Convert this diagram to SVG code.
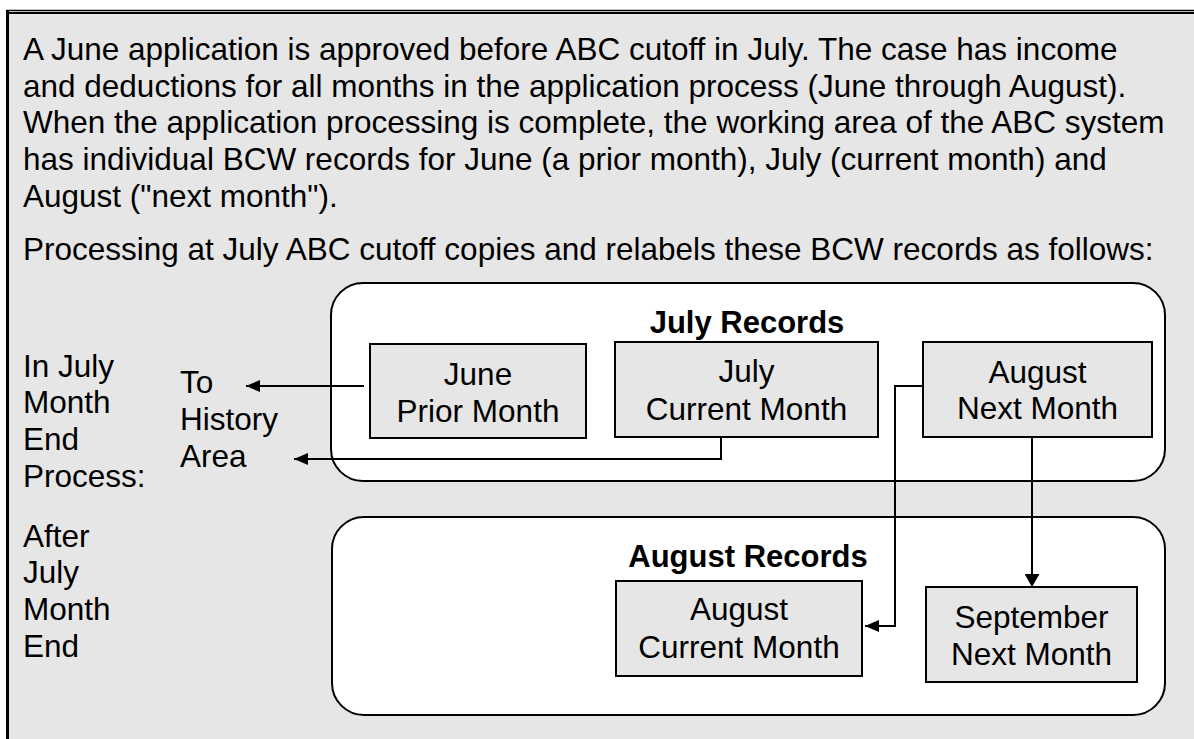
<svg xmlns="http://www.w3.org/2000/svg" width="1194" height="739" viewBox="0 0 1194 739">
<style>
text{font-family:"Liberation Sans",Arial,sans-serif;font-size:31.5px;fill:#000}
.b{font-weight:bold;font-size:31px}
.c{text-anchor:middle}
.box{fill:#e6e6e6;stroke:#000;stroke-width:2}
.grp{fill:#fff;stroke:#000;stroke-width:2}
.ln{fill:none;stroke:#000;stroke-width:2}
</style>
<defs>
<marker id="ah" viewBox="0 0 14 12" refX="14" refY="6" markerWidth="14" markerHeight="12" markerUnits="userSpaceOnUse" orient="auto">
<path d="M0,0 L14,6 L0,12 Z" fill="#000"/>
</marker>
<marker id="ahd" viewBox="0 0 13 15" refX="13" refY="7.5" markerWidth="13" markerHeight="15" markerUnits="userSpaceOnUse" orient="auto">
<path d="M0,0 L13,7.5 L0,15 Z" fill="#000"/>
</marker>
</defs>
<rect width="1194" height="739" fill="#fff"/>
<rect x="9" y="13" width="1185" height="726" fill="#e6e6e6"/>
<g id="frame">
<line x1="6" y1="10.5" x2="1194" y2="10.5" stroke="#000" stroke-width="1.5"/>
<line x1="9" y1="13" x2="1194" y2="13" stroke="#000" stroke-width="2"/>
<line x1="7.5" y1="10" x2="7.5" y2="739" stroke="#000" stroke-width="3"/>
</g>
<g id="intro">
<text x="23" y="60">A June application is approved before ABC cutoff in July. The case has income</text>
<text x="23" y="97">and deductions for all months in the application process (June through August).</text>
<text x="23" y="133">When the application processing is complete, the working area of the ABC system</text>
<text x="23" y="170">has individual BCW records for June (a prior month), July (current month) and</text>
<text x="23" y="207">August ("next month").</text>
<text x="23" y="260">Processing at July ABC cutoff copies and relabels these BCW records as follows:</text>
</g>
<g id="label-july-process">
<text x="23" y="377">In July</text>
<text x="23" y="413">Month</text>
<text x="23" y="450">End</text>
<text x="23" y="487">Process:</text>
</g>
<g id="label-after">
<text x="23" y="547">After</text>
<text x="23" y="583">July</text>
<text x="23" y="620">Month</text>
<text x="23" y="657">End</text>
</g>
<g id="history">
<text x="180" y="393">To</text>
<text x="180" y="430">History</text>
<text x="180" y="467">Area</text>
</g>
<g id="july-records">
<rect class="grp" x="331" y="283" width="834" height="198" rx="32" ry="32"/>
<text class="b c" x="747" y="333">July Records</text>
</g>
<g id="august-records">
<rect class="grp" x="332" y="517" width="833" height="198" rx="32" ry="32"/>
<text class="b c" x="748" y="567">August Records</text>
</g>
<g id="connectors">
<line class="ln" x1="364" y1="386" x2="246" y2="386" marker-end="url(#ah)"/>
<polyline class="ln" points="721,437 721,459 294,459" marker-end="url(#ah)"/>
<polyline class="ln" points="923,386 895,386 895,626 865,626" marker-end="url(#ah)"/>
<line class="ln" x1="1032" y1="437" x2="1032" y2="587" marker-end="url(#ahd)"/>
</g>
<g id="june-prior">
<rect class="box" x="370" y="344" width="216" height="94"/>
<text class="c" x="478" y="385">June</text>
<text class="c" x="478" y="422">Prior Month</text>
</g>
<g id="july-current">
<rect class="box" x="615" y="342" width="263" height="95"/>
<text class="c" x="746.5" y="382">July</text>
<text class="c" x="746.5" y="420">Current Month</text>
</g>
<g id="august-next">
<rect class="box" x="923" y="342" width="229" height="95"/>
<text class="c" x="1037.5" y="383">August</text>
<text class="c" x="1037.5" y="419">Next Month</text>
</g>
<g id="august-current">
<rect class="box" x="616" y="581" width="246" height="95"/>
<text class="c" x="739" y="620">August</text>
<text class="c" x="739" y="658">Current Month</text>
</g>
<g id="september-next">
<rect class="box" x="926" y="587" width="211" height="95"/>
<text class="c" x="1031.5" y="628">September</text>
<text class="c" x="1031.5" y="665">Next Month</text>
</g>
</svg>
